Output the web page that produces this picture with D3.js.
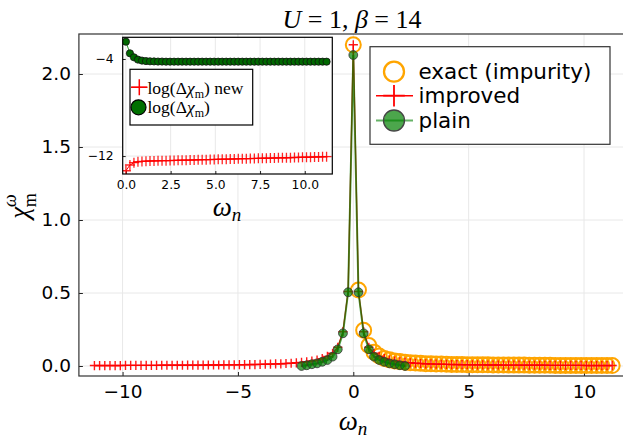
<!DOCTYPE html>
<html><head><meta charset="utf-8">
<script src="https://cdn.jsdelivr.net/npm/d3@7"></script>
<style>body{margin:0;background:#fff}svg{display:block}</style>
</head><body>
<svg id="c" width="623" height="441"></svg>
<script>
// ---------- data ----------
const beta = 14;
const nImproved = d3.range(-50, 51);   // Matsubara indices
const nExact = d3.range(0, 51);
const nPlain = d3.range(-10, 11);
const nInset = d3.range(0, 51);
const freq = n => n * Math.PI / beta;

const exactVals = [2.2, 0.52, 0.245, 0.14, 0.095, 0.068, 0.052, 0.042, 0.035, 0.030,
 0.026, 0.023, 0.020, 0.018, 0.016, 0.015, 0.014, 0.013, 0.012, 0.011,
 0.010, 0.010, 0.009, 0.009, 0.008, 0.008, 0.008, 0.007, 0.007, 0.007,
 0.006, 0.006, 0.006, 0.006, 0.005, 0.005, 0.005, 0.005, 0.005, 0.004,
 0.004, 0.004, 0.004, 0.004, 0.004, 0.004, 0.003, 0.003, 0.003, 0.003, 0.003];

const improvedVals = [0.003, 0.003, 0.003, 0.003, 0.003, 0.003, 0.004, 0.004, 0.004, 0.004,
 0.004, 0.004, 0.004, 0.005, 0.005, 0.005, 0.005, 0.005, 0.006, 0.006,
 0.006, 0.006, 0.007, 0.007, 0.007, 0.008, 0.008, 0.008, 0.009, 0.009,
 0.010, 0.010, 0.011, 0.012, 0.013, 0.014, 0.015, 0.017, 0.019, 0.022,
 0.025, 0.029, 0.034, 0.040, 0.050, 0.066, 0.087, 0.128, 0.235, 0.51,
 2.2,
 0.51, 0.235, 0.128, 0.087, 0.066, 0.050, 0.040, 0.034, 0.029, 0.025,
 0.022, 0.019, 0.017, 0.015, 0.014, 0.013, 0.012, 0.011, 0.010, 0.010,
 0.009, 0.009, 0.008, 0.008, 0.008, 0.007, 0.007, 0.007, 0.006, 0.006,
 0.006, 0.006, 0.005, 0.005, 0.005, 0.005, 0.005, 0.004, 0.004, 0.004,
 0.004, 0.004, 0.004, 0.004, 0.003, 0.003, 0.003, 0.003, 0.003, 0.003];

const plainVals = [0.0, 0.005, 0.012, 0.018, 0.029, 0.041, 0.064, 0.114, 0.224, 0.505,
 2.13,
 0.505, 0.224, 0.114, 0.064, 0.041, 0.029, 0.018, 0.012, 0.005, 0.0];

const insetNew = [-13.21, -12.74, -12.55, -12.47, -12.44, -12.42,
 -12.41, -12.40, -12.39, -12.38, -12.38, -12.37, -12.36, -12.35, -12.34, -12.34,
 -12.33, -12.32, -12.31, -12.30, -12.30, -12.29, -12.28, -12.27, -12.26, -12.26,
 -12.25, -12.24, -12.23, -12.22, -12.22, -12.21, -12.20, -12.19, -12.18, -12.18,
 -12.17, -12.16, -12.15, -12.14, -12.14, -12.13, -12.12, -12.11, -12.10, -12.10,
 -12.09, -12.08, -12.07, -12.06, -12.05];

const insetOld = [-2.57, -3.53, -3.86, -4.05, -4.13, -4.17, -4.19, -4.20, -4.21, -4.21,
 -4.22, -4.22, -4.22, -4.22, -4.22, -4.22, -4.22, -4.22, -4.22, -4.22,
 -4.22, -4.22, -4.22, -4.22, -4.22, -4.22, -4.22, -4.22, -4.22, -4.22,
 -4.22, -4.22, -4.22, -4.22, -4.22, -4.22, -4.22, -4.22, -4.22, -4.22,
 -4.22, -4.22, -4.22, -4.22, -4.22, -4.22, -4.22, -4.22, -4.22, -4.22, -4.22];

const xTicks = [-10, -5, 0, 5, 10];
const yTicks = [0, 0.5, 1.0, 1.5, 2.0];
const insetXTicks = [0, 2.5, 5, 7.5, 10];
const insetYTicks = [-12, -4];
const legendLabels = ["exact (impurity)", "improved", "plain"];

// ---------- drawing ----------
const svg = d3.select("#c");
const SANS = "DejaVu Sans, sans-serif";
const SERIF = "Liberation Serif, serif";

const L = 78.9, R = 627.7, T = 34, B = 376;
const x = d3.scaleLinear([-11.893, 11.893], [L, R]);
const y = d3.scaleLinear([-0.0685, 2.274], [B, T]);

const mainClip = svg.append("clipPath").attr("id","mc").append("rect")
  .attr("x", L).attr("y", T).attr("width", R-L).attr("height", B-T);

// grid
const grid = svg.append("g");
grid.selectAll(".gx").data(xTicks).join("line")
  .attr("x1", d=>x(d)).attr("x2", d=>x(d)).attr("y1", T).attr("y2", B)
  .attr("stroke", "#e8e8e8").attr("stroke-width", 1);
grid.selectAll(".gy").data(yTicks).join("line")
  .attr("x1", L).attr("x2", R).attr("y1", d=>y(d)).attr("y2", d=>y(d))
  .attr("stroke", "#e8e8e8").attr("stroke-width", 1);

// axes
const ax = svg.append("g").attr("transform", `translate(0,${B})`)
  .call(d3.axisBottom(x).tickValues(xTicks).tickFormat(d3.format("d")).tickSizeInner(-4).tickSizeOuter(0).tickPadding(9));
const ay = svg.append("g").attr("transform", `translate(${L},0)`)
  .call(d3.axisLeft(y).tickValues(yTicks).tickFormat(d3.format(".1f")).tickSizeInner(-4).tickSizeOuter(0).tickPadding(8));
[ax, ay].forEach(a => {
  a.select(".domain").remove();
  a.selectAll("line").attr("stroke", "#222");
  a.selectAll("text").attr("font-family", SANS).attr("font-size", 18.5).attr("fill", "#000");
});
svg.append("rect").attr("x", L).attr("y", T).attr("width", R-L).attr("height", B-T)
  .attr("fill", "none").attr("stroke", "#333").attr("stroke-width", 1.2);

const crossPath = r => `M${-r},0H${r}M0,${-r}V${r}`;
const plot = svg.append("g").attr("clip-path", "url(#mc)");

// exact (impurity): hollow orange circles
plot.selectAll(".ex").data(nExact).join("circle")
  .attr("cx", (n)=>x(freq(n))).attr("cy", (n,i)=>y(exactVals[i])).attr("r", 7.5)
  .attr("fill", "none").attr("stroke", "#ffa500").attr("stroke-width", 2);

// improved: red line + crosses
plot.append("path").datum(nImproved)
  .attr("d", d3.line().x(n=>x(freq(n))).y((n,i)=>y(improvedVals[i])))
  .attr("fill", "none").attr("stroke", "#ff0000").attr("stroke-width", 1.3);
plot.selectAll(".im").data(nImproved).join("path")
  .attr("transform", (n,i)=>`translate(${x(freq(n))},${y(improvedVals[i])})`)
  .attr("d", crossPath(4.6)).attr("stroke", "#ff0000").attr("stroke-width", 1.4).attr("opacity", 0.9);

// plain: green line + dots
plot.append("path").datum(nPlain)
  .attr("d", d3.line().x(n=>x(freq(n))).y((n,i)=>y(plainVals[i])))
  .attr("fill", "none").attr("stroke", "#008000").attr("stroke-opacity", 0.7).attr("stroke-width", 2);
plot.selectAll(".pl").data(nPlain).join("circle")
  .attr("cx", n=>x(freq(n))).attr("cy", (n,i)=>y(plainVals[i])).attr("r", 4.4)
  .attr("fill", "#008000").attr("fill-opacity", 0.7).attr("stroke", "#333").attr("stroke-width", 0.8);

// main legend
const lg = svg.append("g");
lg.append("rect").attr("x", 370).attr("y", 46.7).attr("width", 240).attr("height", 97.6)
  .attr("fill", "#fff").attr("stroke", "#333").attr("stroke-width", 1.2);
const rowsY = [71.7, 95.7, 120.5];
lg.append("circle").attr("cx", 394).attr("cy", rowsY[0]).attr("r", 10)
  .attr("fill", "none").attr("stroke", "#ffa500").attr("stroke-width", 2.3);
lg.append("line").attr("x1", 376).attr("x2", 413).attr("y1", rowsY[1]).attr("y2", rowsY[1])
  .attr("stroke", "#ff0000").attr("stroke-width", 1.5);
lg.append("path").attr("transform", `translate(394,${rowsY[1]})`).attr("d", crossPath(10.8))
  .attr("stroke", "#ff0000").attr("stroke-width", 1.8);
lg.append("line").attr("x1", 376).attr("x2", 413).attr("y1", rowsY[2]).attr("y2", rowsY[2])
  .attr("stroke", "#008000").attr("stroke-opacity", 0.6).attr("stroke-width", 2);
lg.append("circle").attr("cx", 394).attr("cy", rowsY[2]).attr("r", 10.5)
  .attr("fill", "#008000").attr("fill-opacity", 0.7).attr("stroke", "#444").attr("stroke-width", 1.3);
lg.selectAll(".lt").data(legendLabels).join("text")
  .attr("x", 418.5).attr("y", (d,i)=>rowsY[i] + 7.6)
  .attr("font-family", SANS).attr("font-size", 21.5).attr("fill", "#000").text(d=>d);

// title
const title = svg.append("text").attr("x", 352).attr("y", 27.5).attr("text-anchor", "middle")
  .attr("font-family", SERIF).attr("font-size", 26);
title.append("tspan").attr("font-style", "italic").text("U");
title.append("tspan").text(" = 1, ");
title.append("tspan").attr("font-style", "italic").text("β");
title.append("tspan").text(" = 14");

// x label
const xl = svg.append("text").attr("x", 353).attr("y", 430).attr("text-anchor", "middle")
  .attr("font-family", SERIF).attr("font-style", "italic");
xl.append("tspan").attr("font-size", 27).text("ω");
xl.append("tspan").attr("font-size", 19).attr("dy", 5).text("n");

// y label
const yl = svg.append("text").attr("transform", "translate(28,206) rotate(-90)")
  .attr("text-anchor", "middle").attr("font-family", SERIF);
yl.append("tspan").attr("font-size", 27).attr("font-style", "italic").text("χ");
yl.append("tspan").attr("font-size", 18).attr("font-style", "italic").attr("dy", -12).text("ω");
yl.append("tspan").attr("font-size", 18).attr("dx", -13).attr("dy", 20).text("m");

// ---------- inset ----------
const iL = 122.7, iR = 332.3, iT = 37.3, iB = 174;
const ix = d3.scaleLinear([-0.18, 11.54], [iL, iR]);
const iy = d3.scaleLinear([-13.48, -2.21], [iB, iT]);
const ins = svg.append("g");
ins.append("rect").attr("x", iL).attr("y", iT).attr("width", iR-iL).attr("height", iB-iT).attr("fill", "#fff");
ins.selectAll(".igx").data(insetXTicks).join("line")
  .attr("x1", d=>ix(d)).attr("x2", d=>ix(d)).attr("y1", iT).attr("y2", iB)
  .attr("stroke", "#e8e8e8");
ins.selectAll(".igy").data(insetYTicks).join("line")
  .attr("x1", iL).attr("x2", iR).attr("y1", d=>iy(d)).attr("y2", d=>iy(d))
  .attr("stroke", "#e8e8e8");
const iax = ins.append("g").attr("transform", `translate(0,${iB})`)
  .call(d3.axisBottom(ix).tickValues(insetXTicks).tickFormat(d3.format(".1f")).tickSizeInner(-3).tickSizeOuter(0).tickPadding(6));
const iay = ins.append("g").attr("transform", `translate(${iL},0)`)
  .call(d3.axisLeft(iy).tickValues(insetYTicks).tickFormat(d3.format("d")).tickSizeInner(-3).tickSizeOuter(0).tickPadding(9));
[iax, iay].forEach(a => {
  a.select(".domain").remove();
  a.selectAll("line").attr("stroke", "#222");
  a.selectAll("text").attr("font-family", SANS).attr("font-size", 12.3).attr("fill", "#000");
});
ins.append("clipPath").attr("id","ic").append("rect")
  .attr("x", iL).attr("y", iT).attr("width", iR-iL).attr("height", iB-iT);
const ip = ins.append("g").attr("clip-path", "url(#ic)");
ip.append("path").datum(nInset)
  .attr("d", d3.line().x(n=>ix(freq(n))).y((n,i)=>iy(insetNew[i])))
  .attr("fill", "none").attr("stroke", "#ff0000").attr("stroke-width", 1);
ip.selectAll(".in").data(nInset).join("path")
  .attr("transform", (n,i)=>`translate(${ix(freq(n))},${iy(insetNew[i])})`)
  .attr("d", crossPath(5)).attr("stroke", "#ff0000").attr("stroke-width", 1.3).attr("opacity", 0.85);
ip.append("path").datum(nInset)
  .attr("d", d3.line().x(n=>ix(freq(n))).y((n,i)=>iy(insetOld[i])))
  .attr("fill", "none").attr("stroke", "#2a9a2a").attr("stroke-width", 1);
ip.selectAll(".io").data(nInset).join("circle")
  .attr("cx", n=>ix(freq(n))).attr("cy", (n,i)=>iy(insetOld[i])).attr("r", 3.6)
  .attr("fill", "#006800").attr("stroke", "#111").attr("stroke-width", 0.8);
ins.append("rect").attr("x", iL).attr("y", iT).attr("width", iR-iL).attr("height", iB-iT)
  .attr("fill", "none").attr("stroke", "#000").attr("stroke-width", 1.2);

// inset legend
const il = ins.append("g");
il.append("rect").attr("x", 130).attr("y", 69.3).attr("width", 122.7).attr("height", 55.7)
  .attr("fill", "#fff").attr("stroke", "#000").attr("stroke-width", 1.2);
il.append("line").attr("x1", 131).attr("x2", 147.3).attr("y1", 87.3).attr("y2", 87.3)
  .attr("stroke", "#ff0000").attr("stroke-width", 1.3);
il.append("path").attr("transform", "translate(139.3,87.3)").attr("d", crossPath(8))
  .attr("stroke", "#ff0000").attr("stroke-width", 1.5);
il.append("circle").attr("cx", 138.5).attr("cy", 107.3).attr("r", 7.5)
  .attr("fill", "#007000").attr("stroke", "#000").attr("stroke-width", 1.2);
const leg1 = il.append("text").attr("x", 147.5).attr("y", 94).attr("font-family", SERIF).attr("font-size", 17.5);
leg1.append("tspan").text("log(Δ");
leg1.append("tspan").attr("font-style", "italic").text("χ");
leg1.append("tspan").attr("font-size", 12).attr("dy", 4).text("m");
leg1.append("tspan").attr("dy", -4).text(") new");
const leg2 = il.append("text").attr("x", 147.5).attr("y", 112.7).attr("font-family", SERIF).attr("font-size", 17.5);
leg2.append("tspan").text("log(Δ");
leg2.append("tspan").attr("font-style", "italic").text("χ");
leg2.append("tspan").attr("font-size", 12).attr("dy", 4).text("m");
leg2.append("tspan").attr("dy", -4).text(")");

// inset x label
const ixl = ins.append("text").attr("x", 227).attr("y", 216).attr("text-anchor", "middle")
  .attr("font-family", SERIF).attr("font-style", "italic");
ixl.append("tspan").attr("font-size", 27).text("ω");
ixl.append("tspan").attr("font-size", 19).attr("dy", 5).text("n");
</script>
</body></html>
